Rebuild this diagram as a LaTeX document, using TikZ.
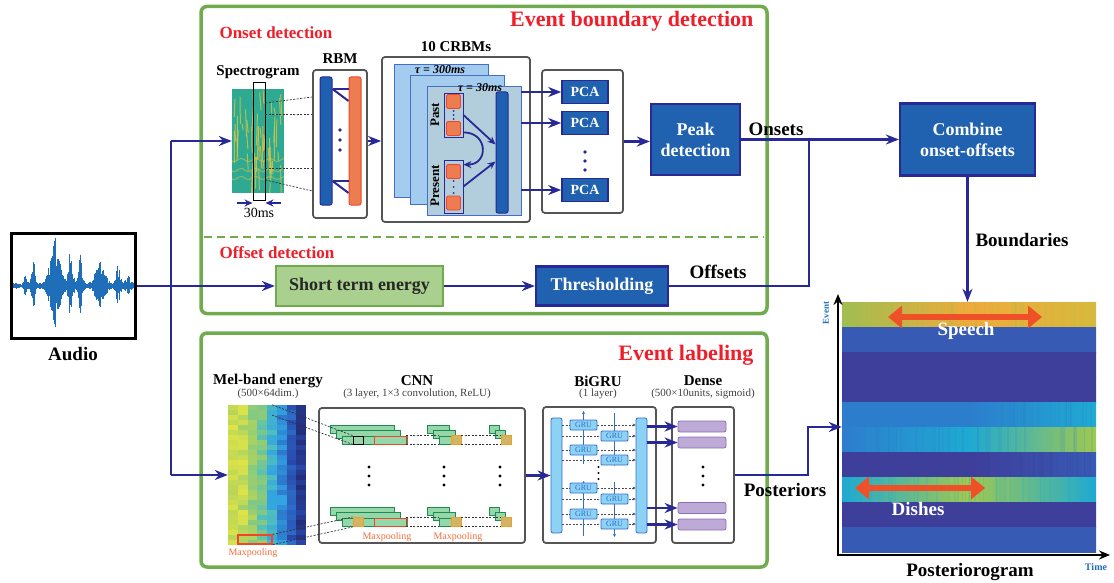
\documentclass[tikz,border=0pt]{standalone}
\usepackage{fontspec}
\setmainfont{Liberation Serif}
\usetikzlibrary{arrows.meta,positioning}

\definecolor{navy}{RGB}{40,40,150}
\definecolor{boxblue}{RGB}{33,98,176}
\definecolor{grnline}{RGB}{112,171,78}
\definecolor{grnfill}{RGB}{169,208,142}
\definecolor{hdred}{RGB}{240,30,40}
\definecolor{frgray}{RGB}{85,85,85}
\definecolor{orfill}{RGB}{237,125,80}
\definecolor{orline}{RGB}{240,70,40}
\definecolor{layA}{RGB}{163,204,238}
\definecolor{layB}{RGB}{178,206,220}
\definecolor{layline}{RGB}{70,110,200}
\definecolor{barblue}{RGB}{30,95,175}
\definecolor{grufill}{RGB}{140,210,245}
\definecolor{gruline}{RGB}{50,110,200}
\definecolor{dnsfill}{RGB}{190,170,215}
\definecolor{dnsline}{RGB}{140,110,180}
\definecolor{cnnfill}{RGB}{150,215,170}
\definecolor{cnnline}{RGB}{30,140,80}
\definecolor{mpfill}{RGB}{210,180,100}
\definecolor{mpline}{RGB}{240,160,40}
\definecolor{mptext}{RGB}{240,110,60}
\definecolor{wave}{RGB}{30,110,185}
\definecolor{arrred}{RGB}{240,80,40}
\definecolor{axblue}{RGB}{30,110,190}
\definecolor{specbg}{RGB}{45,170,145}
\definecolor{specyel}{RGB}{235,200,60}
% posteriorogram colours
\definecolor{hmY}{RGB}{215,185,60}
\definecolor{hmG}{RGB}{160,190,80}
\definecolor{hmO}{RGB}{240,170,60}
\definecolor{hmB}{RGB}{55,90,180}
\definecolor{hmD}{RGB}{62,62,155}
\definecolor{hmL}{RGB}{45,125,205}
\definecolor{hmC}{RGB}{30,170,210}
\definecolor{hmYG}{RGB}{160,200,80}
% mel-band colours
\definecolor{mY}{RGB}{225,228,70}
\definecolor{mA}{RGB}{180,212,90}
\definecolor{mB}{RGB}{150,205,110}
\definecolor{mC}{RGB}{120,200,140}
\definecolor{mD}{RGB}{80,190,190}
\definecolor{mE}{RGB}{50,165,225}
\definecolor{mF}{RGB}{45,110,200}
\definecolor{mG}{RGB}{40,72,170}
\definecolor{mH}{RGB}{35,45,120}

\tikzset{
  grnframe/.style={draw=grnline, line width=3.5pt, rounded corners=6pt, inner sep=0pt},
  grayframe/.style={draw=frgray, line width=1.8pt, rounded corners=3pt, inner sep=0pt},
  hd/.style={font=\bfseries\fontsize{15}{17}\selectfont},
  subhd/.style={font=\fontsize{11}{13}\selectfont, text=black!75},
  bigtxt/.style={font=\bfseries\fontsize{19}{21}\selectfont},
  redhd/.style={font=\bfseries\fontsize{22}{24}\selectfont, text=hdred},
  redsub/.style={font=\bfseries\fontsize{17}{19}\selectfont, text=hdred},
  bluebox/.style={draw=navy, line width=2.2pt, fill=boxblue, text=white, font=\bfseries\fontsize{18}{21}\selectfont, align=center, inner sep=0pt},
  pcanode/.style={bluebox, line width=1.6pt, font=\bfseries\fontsize{14}{16}\selectfont, minimum width=46pt, minimum height=23pt},
  barnode/.style={draw=navy, fill=barblue, line width=1pt, rounded corners=2pt, inner sep=0pt},
  orsq/.style={draw=orline, fill=orfill, line width=.8pt, rounded corners=1.5pt, minimum size=14pt, inner sep=0pt},
  layer/.style={draw=layline, line width=.8pt, inner sep=0pt, minimum width=94pt},
  cnnrect/.style={draw=cnnline, fill=cnnfill, line width=.8pt, minimum height=8pt, inner sep=0pt},
  mpsq/.style={draw=mpline, fill=mpfill, line width=1pt, minimum width=10pt, minimum height=9pt, inner sep=0pt},
  gru/.style={draw=gruline, fill=grufill, line width=.8pt, rounded corners=1pt, minimum width=27pt, minimum height=10pt, inner sep=0pt, text=gruline, font=\fontsize{8}{9}\selectfont},
  dns/.style={draw=dnsline, fill=dnsfill, line width=.8pt, rounded corners=2pt, minimum width=48pt, minimum height=11pt, inner sep=0pt},
  flowarr/.style={draw=navy, line width=2.6pt, -{Stealth[length=13pt,width=10pt]}},
  midarr/.style={draw=navy, line width=1.8pt, -{Stealth[length=8pt,width=7pt]}},
  conn/.style={draw=navy, line width=2.6pt},
  thdash/.style={draw=black!80, line width=.7pt, dash pattern=on 2pt off 1.5pt},
  gdash/.style={draw=black!70, line width=.6pt, dash pattern=on 2pt off 1.5pt, -{Stealth[length=3pt,width=3pt]}},
  axisarr/.style={draw=black, line width=2.5pt, -{Stealth[length=11pt,width=9pt]}},
  mptxt/.style={text=mptext, font=\fontsize{10}{12}\selectfont},
}

\begin{document}
\begin{tikzpicture}[x=1pt,y=-1pt]
\useasboundingbox (0,0) rectangle (1114,583);

% frames
\node[grnframe, minimum width=566pt, minimum height=307pt] (bdet) at (484,160) {};
\node[grnframe, minimum width=566pt, minimum height=234pt] (elab) at (484,450) {};
\draw[grnline, line width=2.5pt, dash pattern=on 8pt off 5pt] (204,237) -- (764,237);
\node[redhd, anchor=east] (bdtitle) at (757,21) {Event boundary detection};
\node[redsub, anchor=west] (ontitle) at (216,33) {Onset detection};
\node[redsub, anchor=west] (offtitle) at (216,253) {Offset detection};
\node[redhd, anchor=east] (eltitle) at (757,355) {Event labeling};

% audio
\node[draw=black, line width=3pt, minimum width=124pt, minimum height=105pt, inner sep=0pt] (audio) at (73.5,286) {};
\begin{scope}
  \clip (13,235) rectangle (134,337);
  \pgfmathsetseed{7}
  \draw[wave, line width=.8pt] (13,286) -- (134,286);
  \foreach \x in {13,13.5,...,134} {
    \pgfmathsetmacro\env{3+10*exp(max(-9,0-(\x-25)^2/3))+25*exp(max(-9,0-(\x-33)^2/4))+45*exp(max(-9,0-(\x-55)^2/40))+30*exp(max(-9,0-(\x-70)^2/10))+32*exp(max(-9,0-(\x-80)^2/6))+22*exp(max(-9,0-(\x-100)^2/40))+18*exp(max(-9,0-(\x-118)^2/6))+8*exp(max(-9,0-(\x-128)^2/8))}
    \pgfmathsetmacro\amp{\env*(0.35+0.65*rnd)}
    \draw[wave, line width=.6pt] (\x,286-\amp) -- (\x,286+0.85*\amp);
  }
\end{scope}
\node[bigtxt] (audiolab) at (73,354) {Audio};

% onset detection
\node[hd] (speclab) at (258,72) {Spectrogram};
\node[fill=specbg, minimum width=52pt, minimum height=103pt, inner sep=0pt] (spec) at (258,141) {};
\begin{scope}
  \clip (232,89.5) rectangle (284,192.5);
  \pgfmathsetseed{3}
  \foreach \i in {1,...,50} {
    \pgfmathsetmacro\sx{233+rnd*49}
    \pgfmathsetmacro\sy{90+rnd*80}
    \pgfmathsetmacro\sl{6+rnd*28}
    \draw[specyel, line width=1pt, opacity=.7] (\sx,\sy) -- ++(rnd*3-1.5,\sl);
  }
  \foreach \yy in {160,170,178} {
    \draw[specyel, line width=1pt, opacity=.5, domain=232:284, samples=30] plot (\x, {\yy+1.5*sin(\x*25)});
  }
\end{scope}
\node[draw=black, line width=.9pt, minimum width=12pt, minimum height=118pt, inner sep=0pt] (win) at (259,141) {};
\draw[midarr] (237,203) -- (win.west |- 0,203);
\draw[midarr] (281,203) -- (win.east |- 0,203);
\node[font=\fontsize{14}{16}\selectfont] (winlab) at (259,213) {30ms};

\node[grayframe, minimum width=54pt, minimum height=148pt] (rbm) at (340,144) {};
\node[hd, above=2pt of rbm] (rbmlab) {RBM};
\node[barnode, minimum width=12pt, minimum height=128pt] (rbmv) at (326,141) {};
\node[barnode, draw=orline, fill=orfill, minimum width=12pt, minimum height=128pt] (rbmh) at (355,141) {};
\draw[navy, line width=2pt] (rbmv.east |- 0,89) -- (rbmh.west |- 0,89);
\draw[navy, line width=2pt] (rbmv.east |- 0,89) -- (rbmh.west |- 0,101);
\draw[navy, line width=2pt] (rbmv.east |- 0,181) -- (rbmh.west |- 0,181);
\draw[navy, line width=2pt] (rbmv.east |- 0,181) -- (rbmh.west |- 0,193);
\foreach \y in {130,140,150} \fill[navy] (340,\y) circle (1.8pt);
\draw[thdash] (win.east |- 0,103) -- (rbm.west |- 0,97);
\draw[thdash] (win.east |- 0,114) -- (rbm.west |- 0,114);
\draw[thdash] (win.east |- 0,168) -- (rbm.west |- 0,168);
\draw[thdash] (win.east |- 0,180) -- (rbm.west |- 0,191);

\node[grayframe, minimum width=148pt, minimum height=165pt] (crbm) at (456,139.5) {};
\node[hd] (crbmlab) at (456,47) {10 CRBMs};
\draw[flowarr] (rbm.east |- 0,141) -- (crbm.west |- 0,141);
\node[layer, fill=layA, minimum height=133pt] (l1) at (441,130.5) {};
\node[layer, fill=layA, minimum height=129pt] (l2) at (457,139.5) {};
\node[layer, fill=layB, minimum height=129pt] (l3) at (474,150.5) {};
\node[font=\bfseries\itshape\fontsize{12}{14}\selectfont] (tau1) at (440,70) {τ = 300ms};
\node[font=\bfseries\itshape\fontsize{12}{14}\selectfont] (tau2) at (480,88) {τ = 30ms};
\node[draw=navy, fill=layB, line width=.8pt, minimum width=19pt, minimum height=44pt, inner sep=0pt] (past) at (453.5,115) {};
\node[draw=navy, fill=layB, line width=.8pt, minimum width=19pt, minimum height=53pt, inner sep=0pt] (present) at (453.5,186.5) {};
\node[orsq] (pa1) at (453.5,101.5) {};
\node[orsq] (pa2) at (453.5,128.5) {};
\node[orsq] (pr1) at (453.5,171.5) {};
\node[orsq] (pr2) at (453.5,203) {};
\foreach \y in {111,115,119,181,187,193} \fill[navy] (453.5,\y) circle (1pt);
\node[rotate=90, font=\bfseries\fontsize{13}{15}\selectfont] (pastlab) at (435,115) {Past};
\node[rotate=90, font=\bfseries\fontsize{13}{15}\selectfont] (preslab) at (435,186) {Present};
\node[barnode, minimum width=12pt, minimum height=121pt] (hid) at (502,152.5) {};
\draw[midarr] (past.east) -- ([yshift=8pt]hid.west);
\draw[midarr] (present.east) -- ([yshift=-9pt]hid.west);
\draw[midarr] ([yshift=5pt]past.south east) to[out=0, in=0, looseness=2] ([yshift=-5pt]present.north east);

\node[grayframe, minimum width=81pt, minimum height=143pt] (pcas) at (582.5,141.5) {};
\node[pcanode] (pca1) at (585,92) {PCA};
\node[pcanode] (pca2) at (585,123) {PCA};
\node[pcanode] (pca3) at (585,190) {PCA};
\foreach \y in {152,161,170} \fill[navy] (585,\y) circle (1.8pt);
\foreach \p in {pca1,pca2,pca3} \draw[flowarr] (l3.east |- \p) -- (\p.west);

\node[bluebox, minimum width=89pt, minimum height=71pt] (peak) at (695.5,139.5) {Peak\\detection};
\draw[flowarr] (pcas.east) -- (pcas.east -| peak.west);

% offset detection
\node[draw=grnline, fill=grnfill, line width=2.2pt, text=black!85, font=\bfseries\fontsize{18}{21}\selectfont, minimum width=167pt, minimum height=40pt, inner sep=0pt] (ste) at (359.5,286) {Short term energy};
\node[bluebox, minimum width=132pt, minimum height=39pt] (thr) at (602,286) {Thresholding};
\draw[flowarr] (audio.east) -- (ste.west);
\draw[flowarr] (ste.east) -- (thr.west);

% combine
\node[bluebox, minimum width=135pt, minimum height=72pt] (comb) at (967.5,139.5) {Combine\\onset-offsets};
\coordinate (merge) at (809,139.5);
\draw[flowarr] (peak.east) -- (comb.west);
\draw[conn] (thr.east) -| (merge);
\node[bigtxt] (onlab) at (776,129) {Onsets};
\node[bigtxt] (offlab) at (718,272) {Offsets};

% trunk from audio
\coordinate (tt) at (171,141);
\coordinate (tb) at (171,475);
\draw[conn] (tt) -- (tb);
\draw[flowarr] (tt) -- (spec.west);

% event labeling
\node[hd] (mellab) at (268,381) {Mel-band energy};
\node[subhd] (melsub) at (268,394) {(500×64dim.)};
\node[minimum width=78pt, minimum height=140pt, inner sep=0pt] (mel) at (267,475) {};
\pgfmathsetseed{11}
\foreach \c/\ca/\cb in {0/mA/mY,1/mB/mY,2/mC/mA,3/mD/mB,4/mE/mD,5/mF/mE,6/mG/mF,7/mH/mG} {
  \foreach \r in {0,...,27} {
    \pgfmathsetmacro\m{int(rnd*100)}
    \fill[\ca!\m!\cb] (228+\c*9.75,405+\r*5) rectangle ++(9.75,5);
  }
}
\draw[flowarr] (tb) -- (mel.west);
\node[draw=orline, line width=1.2pt, minimum width=34pt, minimum height=9pt, inner sep=0pt] (mp) at (255,539.5) {};
\node[mptxt] (mplab1) at (253,553) {Maxpooling};
\node[minimum size=10pt, inner sep=0pt] (mcell) at (267,410) {};

\node[hd] (cnnlab) at (417,381) {CNN};
\node[subhd] (cnnsub) at (417,394) {(3 layer, 1×3 convolution, ReLU)};
\node[grayframe, minimum width=206pt, minimum height=135pt] (cnn) at (422,475.5) {};
\foreach \dy/\row in {0/t,82/b} {
  \foreach \k in {0,1,2} {
    \node[cnnrect, minimum width=64pt] (ca\row\k) at (362+6*\k,429+5.5*\k+\dy) {};
    \node[cnnrect, minimum width=22pt] (cb\row\k) at (438+6*\k,429+5.5*\k+\dy) {};
    \node[cnnrect, minimum width=10pt] (cc\row\k) at (494+6*\k,429+5.5*\k+\dy) {};
  }
  \node[draw=orline, line width=1pt, minimum width=33pt, minimum height=8pt, inner sep=0pt] (mpa\row) at (390.5,440+\dy) {};
  \node[mpsq] (mpb\row) at (456,440+\dy) {};
  \node[mpsq] (mpc\row) at (506,440+\dy) {};
  \draw[thdash] (ca\row2.north east) -- (cb\row2.north west);
  \draw[thdash] (ca\row2.south east) -- (cb\row2.south west);
  \draw[thdash] (cb\row2.north east) -- (cc\row2.north west);
  \draw[thdash] (cb\row2.south east) -- (cc\row2.south west);
}
\node[draw=black, line width=.8pt, minimum width=10pt, minimum height=8pt, inner sep=0pt] (tsq) at (358,440) {};
\node[mpsq] (bsq) at (358,522) {};
\draw[thdash] (mcell.north east) -- (tsq.north west);
\draw[thdash] (mcell.south east) -- (tsq.south west);
\draw[thdash] (mp.north east) -- (bsq.north west);
\draw[thdash] (mp.south east) -- (bsq.south west);
\foreach \x in {369,444,500} \foreach \y in {467,476,485} \fill[black] (\x,\y) circle (1.6pt);
\node[mptxt] (mplab2) at (387,537) {Maxpooling};
\node[mptxt] (mplab3) at (458,537) {Maxpooling};

\node[hd] (grulab) at (598,381) {BiGRU};
\node[subhd] (grusub) at (598,394) {(1 layer)};
\node[grayframe, minimum width=113pt, minimum height=136pt] (bigru) at (599.5,475) {};
\node[draw=gruline, fill=grufill, line width=.8pt, rounded corners=2pt, minimum width=11pt, minimum height=115pt, inner sep=0pt] (gl) at (556.5,475.5) {};
\node[draw=gruline, fill=grufill, line width=.8pt, rounded corners=2pt, minimum width=11pt, minimum height=115pt, inner sep=0pt] (gr) at (641.5,475.5) {};
\draw[flowarr] (cnn.east |- gl.west) -- (gl.west);
\foreach \y in {425,436,450,460,488,499,514,524} \draw[gdash] (gl.east |- 0,\y) -- (gr.west |- 0,\y);
\draw[gruline, line width=.6pt, -{Stealth[length=3pt,width=3pt]}] (583.5,464) -- (583.5,411);
\draw[gruline, line width=.6pt, -{Stealth[length=3pt,width=3pt]}] (583.5,536) -- (583.5,481);
\draw[gruline, line width=.6pt, -{Stealth[length=3pt,width=3pt]}] (614.5,413) -- (614.5,466);
\draw[gruline, line width=.6pt, -{Stealth[length=3pt,width=3pt]}] (614.5,482) -- (614.5,537);
\foreach \n/\y in {1/425,2/450,3/488,4/514} \node[gru] (ga\n) at (583.5,\y) {GRU};
\foreach \n/\y in {1/436,2/460,3/499,4/524} \node[gru] (gb\n) at (614.5,\y) {GRU};
\foreach \y in {467,473,479} \fill[black] (598.5,\y) circle (1.2pt);

\node[hd] (dnslab) at (703,381) {Dense};
\node[subhd] (dnssub) at (703,394) {(500×10units, sigmoid)};
\node[grayframe, minimum width=62pt, minimum height=136pt] (dense) at (703,475) {};
\foreach \n/\y in {1/426.5,2/442.5,3/508,4/524.5} {
  \node[dns] (d\n) at (702,\y) {};
  \draw[flowarr] (gr.east |- d\n) -- (d\n.west);
}
\foreach \y in {467,476,485} \fill[black] (703,\y) circle (1.6pt);

% posteriorogram
\node[minimum width=254pt, minimum height=250pt, inner sep=0pt] (post) at (969,427) {};
\pgfmathsetseed{5}
\foreach \r/\cl/\cm/\cr in {0/hmG/hmO/hmY,1/hmB/hmB/hmB,2/hmD/hmD/hmD,3/hmD/hmD/hmD,4/hmL/hmL/hmC,5/hmL/hmC/hmYG,6/hmD/hmD/hmB,7/hmC/hmYG/hmC,8/hmD/hmD/hmD,9/hmB/hmB/hmB} {
  \shade[left color=\cl, right color=\cr, middle color=\cm] (842,302+25*\r) rectangle (1096,327+25*\r);
  \foreach \k in {1,...,50} {
    \pgfmathsetmacro\xx{842+rnd*252}
    \fill[\cl, opacity=.15] (\xx,302+25*\r) rectangle ++(1.5,25);
  }
}
\coordinate (org) at (838,555);
\coordinate (ytip) at (838,294);
\coordinate (xtip) at (1110,555);
\draw[axisarr] ([yshift=-1.25pt]org) -- (ytip);
\draw[axisarr] ([xshift=-1.25pt]org) -- (xtip);
\node[rotate=90, text=axblue, font=\bfseries\fontsize{9}{10}\selectfont] (evlab) at (826,313) {Event};
\node[text=axblue, font=\bfseries\fontsize{10}{11}\selectfont] (timelab) at (1096,567) {Time};
\node[bigtxt] (postlab) at (970,572) {Posteriorogram};
\draw[arrred, line width=6pt, {Triangle[length=14pt,width=22pt]}-{Triangle[length=14pt,width=22pt]}] (888,317) -- (1042,317);
\draw[arrred, line width=6pt, {Triangle[length=14pt,width=22pt]}-{Triangle[length=14pt,width=22pt]}] (855,488) -- (985,488);
\node[bigtxt, text=white] (speech) at (966,331) {Speech};
\node[bigtxt, text=white] (dishes) at (918,509) {Dishes};

\draw[flowarr] (comb.south) -- (comb.south |- post.north);
\node[bigtxt] (bndlab) at (1022,240) {Boundaries};
\draw[flowarr] (dense.east) -- ++(73,0) |- (post.west);
\node[bigtxt] (poslab) at (785,490) {Posteriors};

\end{tikzpicture}
\end{document}
